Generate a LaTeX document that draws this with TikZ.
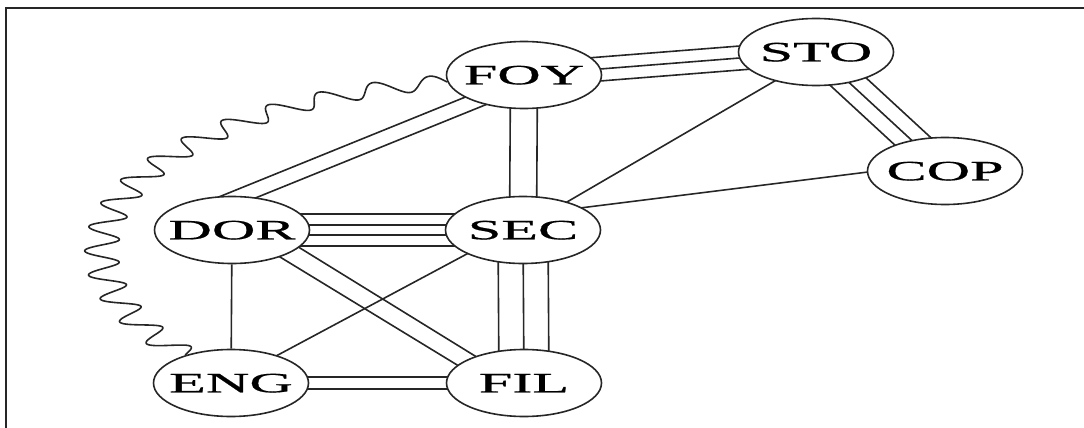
\documentclass[tikz,border=0pt]{standalone}
\usepackage{fontspec}
\setmainfont{Liberation Serif}
\newfontfamily\placefont[FakeBold=0.5]{Liberation Serif}
\usetikzlibrary{shapes.geometric,calc,backgrounds}
\definecolor{ink}{HTML}{262626}
% centred, horizontally widened label that does not enlarge the ellipse
\newcommand\lbl[1]{\smash{\makebox[0pt]{\raisebox{-9.3pt}{\scalebox{2.15}[1]{#1}}}}}
\begin{document}
\begin{tikzpicture}[x=1pt,y=-1pt,
  place/.style={ellipse, draw=ink, line width=1.6pt, fill=white,
    minimum width=155pt, minimum height=67pt, inner sep=0pt,
    font=\placefont\fontsize{28}{30}\selectfont},
  link/.style={draw=ink, line width=1.6pt},
  frameline/.style={draw=ink, line width=2.4pt}]
\useasboundingbox (0,0) rectangle (1084,428);

% frame
\coordinate (fbl) at (6,430);
\coordinate (ftl) at (6,8);
\coordinate (ftr) at (1086,8);
\draw[frameline] (fbl) -- (ftl) -- (ftr);

% places
\node[place] (FOY) at (524,75)  {\lbl{FOY}};
\node[place] (STO) at (816,52)  {\lbl{STO}};
\node[place] (COP) at (945,171) {\lbl{COP}};
\node[place] (DOR) at (232,230) {\lbl{DOR}};
\node[place] (SEC) at (523,230) {\lbl{SEC}};
\node[place] (ENG) at (231,383) {\lbl{ENG}};
\node[place] (FIL) at (524,383) {\lbl{FIL}};

\begin{pgfonlayer}{background}
  % FOY -- STO : three lines
  \foreach \k in {-12,0,12}
    \draw[link] ($(FOY)+(0,\k)$) -- ($(STO)+(0,\k)$);
  % STO -- COP : three lines
  \foreach \k in {-22,0,22}
    \draw[link] ($(STO)+(\k,0)$) -- ($(COP)+(\k,0)$);
  % FOY -- SEC : two lines
  \foreach \k in {-13.5,13.5}
    \draw[link] ($(FOY)+(\k,0)$) -- ($(SEC)+(\k,0)$);
  % SEC -- FIL : three lines
  \foreach \k in {-25,0,25}
    \draw[link] ($(SEC)+(\k,0)$) -- ($(FIL)+(\k,0)$);
  % DOR -- SEC : four lines
  \foreach \k in {-15.75,-5.25,5.25,15.75}
    \draw[link] ($(DOR)+(0,\k)$) -- ($(SEC)+(0,\k)$);
  % ENG -- FIL : two lines
  \foreach \k in {-6,6}
    \draw[link] ($(ENG)+(0,\k)$) -- ($(FIL)+(0,\k)$);
  % FOY -- DOR : two lines
  \draw[link] ($(FOY)+(-24,8)$) -- ($(DOR)+(-32,-25.4)$);
  \draw[link] ($(FOY)+(-14,19.9)$) -- ($(DOR)+(13,-27.8)$);
  % DOR -- FIL : two lines
  \draw[link] ($(DOR)+(38,-0.5)$) -- ($(FIL)+(-24,-11.6)$);
  \draw[link] ($(DOR)+(28,14.8)$) -- ($(FIL)+(-34,2)$);
  % single lines
  \draw[link] (DOR) -- (ENG);
  \draw[link] ($(ENG)+(29,-18.4)$) -- ($(SEC)+(-33,11.6)$);
  \draw[link] ($(STO)+(-26,20.1)$) -- ($(SEC)+(22,-15.2)$);
  \draw[link] ($(COP)+(-45,-3)$) -- ($(SEC)+(37,-19.5)$);
  % wavy arc ENG ~ FOY, drawn on a circle then widened horizontally
  \draw[link, line join=round] plot[domain=0:1, samples=720, variable=\t]
    ({2.4*(213.92+(171.63+7*sin(5400*\t))*cos(260.72-117.86*\t))},
     {251.39+(171.63+7*sin(5400*\t))*sin(260.72-117.86*\t)});
\end{pgfonlayer}
\end{tikzpicture}
\end{document}
